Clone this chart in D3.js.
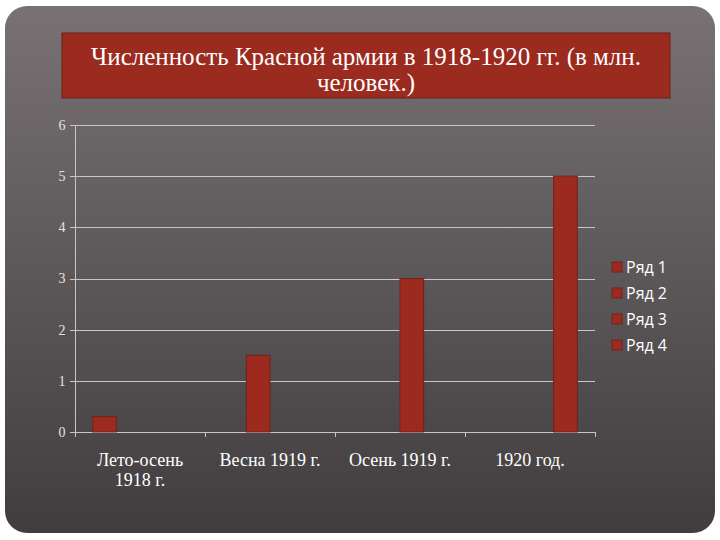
<!DOCTYPE html>
<html>
<head>
<meta charset="utf-8">
<script src="https://cdn.jsdelivr.net/npm/d3@7"></script>
<style>
  body { margin: 0; background: #fff; }
</style>
</head>
<body>
<div id="chart"></div>
<script>
// chart data
var categories = ['Лето-осень 1918 г.', 'Весна 1919 г.', 'Осень 1919 г.', '1920 год.'];
var seriesNames = ['Ряд 1', 'Ряд 2', 'Ряд 3', 'Ряд 4'];
var ряд1 = [0.3, 0, 0, 0];
var ряд2 = [0, 1.5, 0, 0];
var ряд3 = [0, 0, 3, 0];
var ряд4 = [0, 0, 0, 5];
var seriesValues = [ряд1, ряд2, ряд3, ряд4];
var yTicks = [0, 1, 2, 3, 4, 5, 6];
var titleLines = ['Численность Красной армии в 1918-1920 гг. (в млн.', 'человек.)'];

var svgWidth = 720;
var svgHeight = 540;

var margin = { top: 125, left: 75, right: 125, bottom: 108 };
var width = svgWidth - margin.left - margin.right;
var height = svgHeight - margin.top - margin.bottom;

var barColor = '#9c2a1e';
var barStroke = '#74201a';
var gridColor = '#c9c6c6';

var svg = d3.select('#chart')
  .append('svg')
  .attr('width', svgWidth)
  .attr('height', svgHeight);

// background panel
var defs = svg.append('defs');
var grad = defs.append('linearGradient')
  .attr('id', 'bg')
  .attr('x1', 0).attr('y1', 0).attr('x2', 0).attr('y2', 1);
grad.append('stop').attr('offset', '0%').attr('stop-color', '#787274');
grad.append('stop').attr('offset', '100%').attr('stop-color', '#413d3e');

svg.append('rect')
  .attr('x', 5).attr('y', 6)
  .attr('width', 710).attr('height', 527)
  .attr('rx', 22)
  .attr('fill', 'url(#bg)');

// title box
svg.append('rect')
  .attr('x', 62).attr('y', 33)
  .attr('width', 608).attr('height', 65)
  .attr('fill', '#9b2a1f')
  .attr('stroke', '#6e2019')
  .attr('stroke-width', 1);

svg.append('g').selectAll('text')
  .data(titleLines)
  .enter()
  .append('text')
  .attr('x', 366)
  .attr('y', (d, i) => 65 + i * 26)
  .attr('text-anchor', 'middle')
  .attr('fill', '#ffffff')
  .style('font-family', '"Liberation Serif", serif')
  .style('font-size', '25px')
  .text(d => d);

var chartGroup = svg.append('g')
  .attr('transform', `translate(${margin.left}, ${margin.top})`);

// scales
var x0 = d3.scaleBand()
  .domain(categories)
  .range([0, width])
  .padding(0);

// gap width 150% -> 0.75 bar width on each side
var x1 = d3.scaleBand()
  .domain(seriesNames)
  .range([0, x0.bandwidth()])
  .paddingInner(0)
  .paddingOuter(0.75);

var y = d3.scaleLinear().domain([0, 6]).range([height, 0]);

// gridlines
chartGroup.append('g')
  .selectAll('line')
  .data(yTicks)
  .enter()
  .append('line')
  .attr('x1', -5)
  .attr('x2', width)
  .attr('y1', d => Math.round(y(d)) + 0.5)
  .attr('y2', d => Math.round(y(d)) + 0.5)
  .attr('stroke', gridColor)
  .attr('stroke-width', 1);

// y axis
var leftAxis = d3.axisLeft(y).tickValues(yTicks).tickFormat(d3.format('d')).tickSize(0).tickPadding(17);
var yAxis = chartGroup.append('g').call(leftAxis);
yAxis.attr('font-family', null);
yAxis.select('.domain').remove();
yAxis.selectAll('text')
  .attr('fill', '#e6e3e3')
  .attr('text-anchor', 'middle')
  .attr('dx', 4)
  .style('font-family', '"Liberation Serif", serif')
  .style('font-size', '14px');

chartGroup.append('line')
  .attr('x1', 0.5).attr('x2', 0.5)
  .attr('y1', 0).attr('y2', height + 5)
  .attr('stroke', gridColor);

// x axis ticks between categories
chartGroup.append('g')
  .selectAll('line')
  .data(d3.range(categories.length + 1))
  .enter()
  .append('line')
  .attr('x1', d => Math.round(d * x0.bandwidth()) + 0.5)
  .attr('x2', d => Math.round(d * x0.bandwidth()) + 0.5)
  .attr('y1', height)
  .attr('y2', height + 5)
  .attr('stroke', gridColor);

// bars
var groups = chartGroup.selectAll('.cat')
  .data(categories)
  .enter()
  .append('g')
  .attr('class', 'cat')
  .attr('transform', d => `translate(${x0(d)}, 0)`);

groups.selectAll('rect')
  .data((d, ci) => seriesNames.map((s, si) => ({ s: s, v: seriesValues[si][ci] })))
  .enter()
  .filter(d => d.v > 0)
  .append('rect')
  .attr('x', d => x1(d.s))
  .attr('y', d => y(d.v))
  .attr('width', x1.bandwidth())
  .attr('height', d => height - y(d.v))
  .attr('fill', barColor)
  .attr('stroke', barStroke)
  .attr('stroke-width', 1);

// category labels
var labels = chartGroup.append('g')
  .selectAll('text')
  .data(categories)
  .enter()
  .append('text')
  .attr('x', d => x0(d) + x0.bandwidth() / 2)
  .attr('y', height + 34)
  .attr('text-anchor', 'middle')
  .attr('fill', '#ffffff')
  .style('font-family', '"Liberation Serif", serif')
  .style('font-size', '18px');

labels.each(function (d) {
  var parts = d === categories[0] ? ['Лето-осень', '1918 г.'] : [d];
  var t = d3.select(this);
  parts.forEach(function (p, i) {
    t.append('tspan')
      .attr('x', x0(d) + x0.bandwidth() / 2)
      .attr('dy', i === 0 ? 0 : 20)
      .text(p);
  });
});

// legend
var legend = svg.append('g')
  .attr('transform', 'translate(612, 267)');

var items = legend.selectAll('g')
  .data(seriesNames)
  .enter()
  .append('g')
  .attr('transform', (d, i) => `translate(0, ${i * 26})`);

items.append('rect')
  .attr('x', 0).attr('y', -5)
  .attr('width', 10).attr('height', 10)
  .attr('fill', barColor)
  .attr('stroke', barStroke);

items.append('text')
  .attr('x', 14)
  .attr('y', 6)
  .attr('fill', '#ffffff')
  .style('font-family', '"Open Sans", sans-serif')
  .style('font-size', '16px')
  .text(d => d);
</script>
</body>
</html>
